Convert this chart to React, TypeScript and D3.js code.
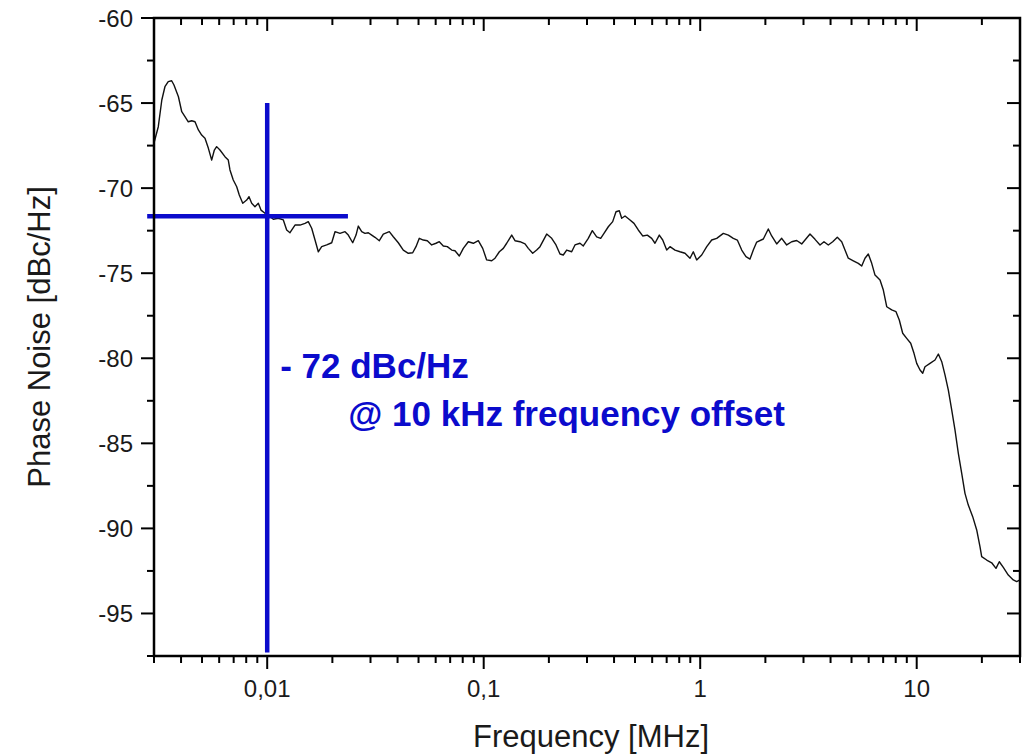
import React from "react";
import * as d3 from "d3";

// offset frequency [MHz]
const freqMHz = [
  0.003, 0.00314, 0.00326, 0.00337, 0.00349, 0.00362, 0.00371, 0.00389, 0.00403, 0.00417,
  0.00432, 0.00448, 0.00464, 0.00481, 0.00498, 0.00516, 0.00535, 0.00554, 0.0057, 0.00584,
  0.00605, 0.00638, 0.00661, 0.00673, 0.00697, 0.00723, 0.00743, 0.00771, 0.00804, 0.00824,
  0.00848, 0.00878, 0.0091, 0.00936, 0.00977, 0.0101, 0.01067, 0.01125, 0.01187, 0.0123,
  0.01274, 0.01344, 0.01418, 0.01495, 0.01548, 0.01605, 0.01663, 0.01722, 0.01785, 0.01883,
  0.01986, 0.02057, 0.02169, 0.02288, 0.02369, 0.02483, 0.02572, 0.02635, 0.02732, 0.02829,
  0.02931, 0.03039, 0.03147, 0.03295, 0.03438, 0.03664, 0.03823, 0.04032, 0.04252, 0.04485,
  0.04699, 0.04867, 0.05041, 0.0526, 0.05489, 0.05751, 0.06022, 0.06236, 0.06508, 0.06791,
  0.07115, 0.07368, 0.07714, 0.0805, 0.0849, 0.08954, 0.09443, 0.09895, 0.1032, 0.1089,
  0.1128, 0.1181, 0.1232, 0.1277, 0.1347, 0.1395, 0.1471, 0.1552, 0.1607, 0.1684,
  0.1757, 0.182, 0.1954, 0.2061, 0.2157, 0.2251, 0.2331, 0.2417, 0.2549, 0.264,
  0.2784, 0.2884, 0.3041, 0.3174, 0.3325, 0.347, 0.3594, 0.3763, 0.3943, 0.4084,
  0.423, 0.4339, 0.4495, 0.474, 0.4946, 0.5176, 0.5424, 0.5697, 0.597, 0.6182,
  0.6472, 0.6712, 0.7003, 0.7253, 0.7648, 0.8066, 0.8507, 0.8972, 0.9293, 0.9634,
  1.016, 1.072, 1.13, 1.192, 1.279, 1.349, 1.422, 1.484, 1.555, 1.627,
  1.698, 1.759, 1.824, 1.957, 2.063, 2.139, 2.256, 2.379, 2.509, 2.646,
  2.79, 2.943, 3.049, 3.215, 3.391, 3.576, 3.731, 3.906, 4.093, 4.298,
  4.504, 4.664, 4.831, 5.096, 5.374, 5.572, 5.77, 5.977, 6.197, 6.419,
  6.769, 7.012, 7.27, 7.666, 8.024, 8.31, 8.616, 8.991, 9.382, 9.716,
  10.0, 10.36, 10.66, 10.92, 11.52, 12.15, 12.59, 13.05, 13.51, 14.0,
  14.51, 15.03, 15.57, 16.14, 16.71, 17.31, 18.14, 18.93, 19.61, 19.96,
  21.05, 22.2, 23.24, 24.07, 25.12, 26.49, 27.93, 28.96, 30.0,
];

// phase noise [dBc/Hz]
const phaseNoise = [
  -67.35, -66.39, -64.82, -64.04, -63.74, -63.69, -63.94, -64.63, -65.51, -65.8,
  -66.1, -66.04, -66.1, -66.58, -66.88, -67.07, -67.66, -68.35, -67.76, -67.56,
  -67.76, -68.15, -68.35, -68.93, -69.52, -69.92, -70.4, -70.89, -70.7, -70.5,
  -70.89, -71.09, -70.89, -71.29, -71.48, -71.58, -71.83, -71.77, -71.87, -72.46,
  -72.62, -72.17, -72.17, -72.07, -71.97, -72.36, -73.05, -73.74, -73.44, -73.34,
  -73.21, -72.56, -72.66, -72.56, -72.76, -73.21, -72.76, -72.23, -72.56, -72.66,
  -72.62, -72.76, -72.89, -73.09, -72.7, -72.56, -72.86, -73.21, -73.64, -73.83,
  -73.8, -73.44, -72.95, -73.05, -73.09, -73.34, -73.24, -73.15, -73.4, -73.44,
  -73.64, -73.68, -73.99, -73.54, -73.15, -73.24, -73.09, -73.54, -74.22, -74.27,
  -74.12, -73.74, -73.54, -73.24, -72.76, -73.09, -73.15, -73.28, -73.54, -73.83,
  -73.64, -73.44, -72.7, -72.95, -73.34, -73.87, -73.93, -73.64, -73.74, -73.34,
  -73.24, -73.4, -72.95, -72.5, -72.86, -72.95, -72.66, -72.27, -71.97, -71.39,
  -71.33, -71.77, -71.64, -71.87, -72.07, -72.46, -72.81, -72.76, -72.95, -73.24,
  -72.76, -73.05, -73.64, -73.44, -73.64, -73.74, -73.83, -74.12, -73.74, -74.22,
  -73.93, -73.44, -73.05, -72.95, -72.66, -72.76, -72.95, -73.05, -73.64, -74.03,
  -74.17, -73.64, -73.17, -72.99, -72.4, -72.81, -73.28, -72.95, -73.34, -73.15,
  -73.08, -73.28, -73.05, -72.7, -73.01, -73.34, -73.15, -73.34, -73.15, -72.89,
  -73.15, -73.64, -74.12, -74.27, -74.42, -74.58, -74.12, -73.87, -74.42, -75.11,
  -75.4, -75.99, -76.97, -77.16, -77.26, -77.75, -78.53, -78.83, -79.12, -79.71,
  -80.3, -80.69, -80.88, -80.5, -80.3, -80.1, -79.75, -80.2, -80.98, -81.87,
  -83.04, -84.22, -85.59, -86.76, -87.94, -88.63, -89.31, -90.09, -91.08, -91.66,
  -91.86, -92.02, -92.35, -91.96, -92.29, -92.74, -93.03, -93.13, -93.03,
];

const xMajorTicks = [0.01, 0.1, 1, 10];
const xTickLabels = ["0,01", "0,1", "1", "10"];
const yMajorTicks = [-95, -90, -85, -80, -75, -70, -65, -60];
const yMinorTicks = [-97.5, -92.5, -87.5, -82.5, -77.5, -72.5, -67.5, -62.5];

// marker cross at 10 kHz
const markerFreq = 0.01;
const markerLevel = -71.65;
const markerFreqSpan = [0.00279, 0.0236];
const markerLevelSpan = [-97.3, -65];
const noteLines = ["- 72 dBc/Hz", "@ 10 kHz frequency offset"];

const BLUE = "#0b0bcc";
const FONT = "'Liberation Sans', Arial, sans-serif";

export default function App() {
  const W = 1032;
  const H = 754;
  const m = { left: 154, right: 1020, top: 18, bottom: 656 };
  const major = 13;
  const minor = 7;

  const x = d3.scaleLog().domain([0.003, 30]).range([m.left, m.right]);
  const y = d3.scaleLinear().domain([-97.5, -60]).range([m.bottom, m.top]);

  const xMinor = x.ticks().filter((t) => !xMajorTicks.some((v) => Math.abs(v - t) < 1e-9));

  const path = d3
    .line<number>()
    .x((d, i) => x(freqMHz[i]))
    .y((d) => y(d))(phaseNoise);

  return (
    <svg
      width={W}
      height={H}
      style={{ position: "absolute", left: 0, top: 0, background: "#fff" }}
      fontFamily={FONT}
    >
      <rect width={W} height={H} fill="#fff" />

      {/* data */}
      <path d={path || ""} fill="none" stroke="#111" strokeWidth={1.4} strokeLinejoin="round" />

      {/* marker */}
      <line
        x1={x(markerFreq)}
        x2={x(markerFreq)}
        y1={y(markerLevelSpan[0])}
        y2={y(markerLevelSpan[1])}
        stroke={BLUE}
        strokeWidth={4.5}
      />
      <line
        x1={x(markerFreqSpan[0])}
        x2={x(markerFreqSpan[1])}
        y1={y(markerLevel)}
        y2={y(markerLevel)}
        stroke={BLUE}
        strokeWidth={4.5}
      />
      <g fill={BLUE} fontWeight="bold" fontSize={35}>
        <text x={x(markerFreq) + 13} y={378}>{noteLines[0]}</text>
        <text x={x(markerFreq) + 81} y={426}>{noteLines[1]}</text>
      </g>

      {/* frame */}
      <g stroke="#000" strokeWidth={2.5} fill="none">
        <rect x={m.left} y={m.top} width={m.right - m.left} height={m.bottom - m.top} />
      </g>

      {/* x ticks: bottom outward, top inward */}
      <g stroke="#000" strokeWidth={2}>
        {xMajorTicks.map((t) => (
          <g key={"xm" + t}>
            <line x1={x(t)} x2={x(t)} y1={m.bottom} y2={m.bottom + major} />
            <line x1={x(t)} x2={x(t)} y1={m.top} y2={m.top + major} />
          </g>
        ))}
        {xMinor.map((t) => (
          <g key={"xn" + t}>
            <line x1={x(t)} x2={x(t)} y1={m.bottom} y2={m.bottom + minor} />
            <line x1={x(t)} x2={x(t)} y1={m.top} y2={m.top + minor} />
          </g>
        ))}
        {yMajorTicks.map((t) => (
          <g key={"ym" + t}>
            <line x1={m.left - major} x2={m.left} y1={y(t)} y2={y(t)} />
            <line x1={m.right - major} x2={m.right} y1={y(t)} y2={y(t)} />
          </g>
        ))}
        {yMinorTicks.map((t) => (
          <g key={"yn" + t}>
            <line x1={m.left - minor} x2={m.left} y1={y(t)} y2={y(t)} />
            <line x1={m.right - minor} x2={m.right} y1={y(t)} y2={y(t)} />
          </g>
        ))}
      </g>

      {/* tick labels */}
      <g fill="#1a1a1a" fontSize={24}>
        {xMajorTicks.map((t, i) => (
          <text key={"xl" + t} x={x(t)} y={697} textAnchor="middle">
            {xTickLabels[i]}
          </text>
        ))}
        {yMajorTicks.map((t) => (
          <text key={"yl" + t} x={m.left - 21} y={y(t)} dy="0.36em" textAnchor="end">
            {t}
          </text>
        ))}
      </g>

      {/* axis titles */}
      <g fill="#1a1a1a" fontSize={31}>
        <text x={591} y={747} textAnchor="middle">
          Frequency [MHz]
        </text>
        <text transform="translate(50,337) rotate(-90)" textAnchor="middle">
          Phase Noise [dBc/Hz]
        </text>
      </g>
    </svg>
  );
}
